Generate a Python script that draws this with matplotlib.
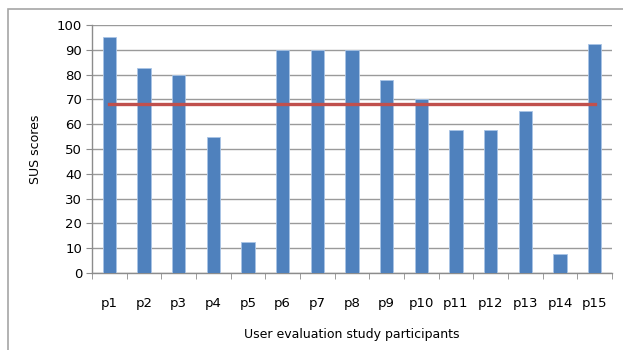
import numpy as np
import matplotlib
matplotlib.use("Agg")
from matplotlib import pyplot as plt
from matplotlib.patches import Rectangle

participants = ["p%d" % i for i in range(1, 16)]
sus_scores = [95, 82.5, 80, 55, 12.5, 90, 90, 90, 78, 70, 57.5, 57.5, 65.5, 7.5, 92.5]
sus_average = [68.3] * len(participants)

plt.rcParams['font.family'] = ['DejaVu Sans']

fig = plt.figure(figsize=(6.23, 3.5), dpi=100)
# outer chart frame, running off the right and bottom edge
fig.patches.append(Rectangle((8 / 623, -0.1), 1.1, 1.1 - 9 / 350,
                             transform=fig.transFigure, fill=False,
                             edgecolor='#a6a6a6', linewidth=1.2))

ax = fig.add_axes([92 / 623, 1 - 273 / 350, 520 / 623, 248 / 350])
x = np.arange(len(participants))
ax.bar(x, sus_scores, width=0.38, color='#4f81bd', edgecolor='#a9c4e6',
       linewidth=0.6, zorder=3)
ax.plot(x, sus_average, color='#c0504d', linewidth=2.4, zorder=4)

ax.set_xlim(-0.5, len(participants) - 0.5)
ax.set_ylim(0, 100)
ax.set_yticks(range(0, 101, 10))
ax.set_xticks(x)
ax.set_xticklabels(participants)
ax.set_xticks(np.arange(-0.5, len(participants), 1), minor=True)
ax.tick_params(axis='x', which='major', length=0, pad=17, labelsize=9.5)
ax.tick_params(axis='x', which='minor', length=4, color='#8c8c8c', direction='out')
ax.tick_params(axis='y', length=4, color='#8c8c8c', labelsize=9.5, pad=3)
ax.grid(axis='y', color='#9a9a9a', linewidth=1.0, zorder=0)
for s in ['top', 'right']:
    ax.spines[s].set_visible(False)
ax.spines['left'].set_color('#8c8c8c')
ax.spines['bottom'].set_color('#8c8c8c')
ax.spines['left'].set_linewidth(1.0)
ax.spines['bottom'].set_linewidth(1.0)

ax.set_ylabel("SUS scores", fontsize=9, labelpad=11)
ax.set_xlabel("User evaluation study participants", fontsize=9, labelpad=13)

fig.savefig("out.png", dpi=100)
